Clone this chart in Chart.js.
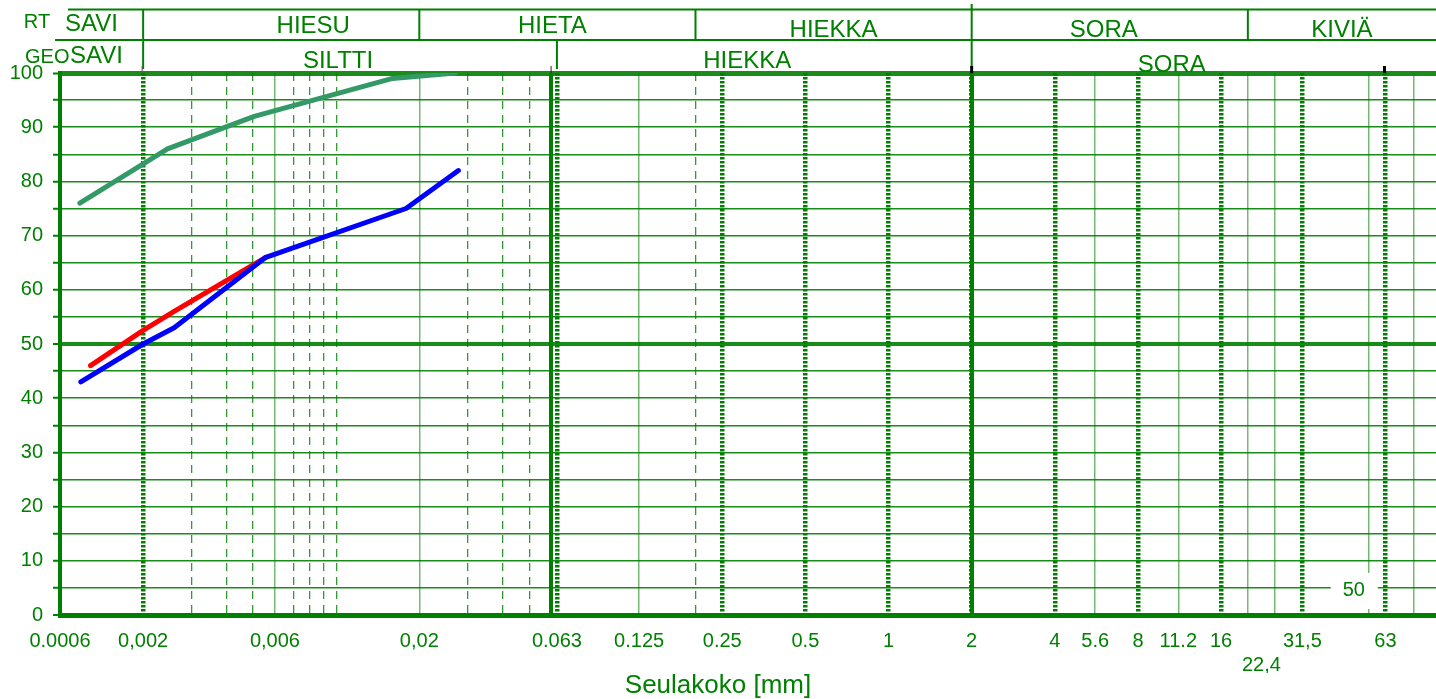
<!DOCTYPE html>
<html>
<head>
<meta charset="utf-8">
<title>Rakeisuuskäyrä</title>
<script src="https://cdn.jsdelivr.net/npm/chart.js@4.4.1/dist/chart.umd.min.js"></script>
<style>
  html, body { margin: 0; padding: 0; background: #fff; overflow: hidden; }
  #wrap { position: relative; width: 1436px; height: 699px; }
</style>
</head>
<body>
<div id="wrap"><canvas id="rakeisuus"></canvas></div>
<script>
// ---- data ----
const xMin = 0.001, xMax = 96;

const xTickValues = [0.001, 0.002, 0.006, 0.02, 0.063, 0.125, 0.25, 0.5, 1, 2, 4, 5.6, 8, 11.2, 16, 22.4, 31.5, 63];
const xTickLabels = ['0.0006', '0,002', '0,006', '0,02', '0.063', '0.125', '0.25', '0.5', '1', '2', '4', '5.6', '8', '11.2', '16', '22,4', '31,5', '63'];

// luokitusrajat (RT ja GEO)
const rtClasses  = ['SAVI', 'HIESU', 'HIETA', 'HIEKKA', 'SORA', 'KIVIÄ'];
const rtBounds   = [0.002, 0.02, 0.2, 2, 20];
const geoClasses = ['SAVI', 'SILTTI', 'HIEKKA', 'SORA'];
const geoBounds  = [0.002, 0.063, 2];

// pystyviivat
const gridDashed = [0.003, 0.004, 0.005, 0.007, 0.008, 0.009, 0.01, 0.03, 0.04, 0.05, 0.2];
const gridThin   = [0.006, 0.02, 0.125, 5.6, 11.2, 20, 25, 55, 80];
const gridDotted = [0.002, 0.063, 0.25, 0.5, 1, 2, 4, 8, 16, 31.5, 63];
const gridBold   = [0.06, 2];

// läpäisy-% (raekoko mm)
const greenSize = [0.00118, 0.00245, 0.00505, 0.016, 0.027];
const greenPass = [76, 86, 92, 99, 100];
const blueSize  = [0.00119, 0.002, 0.00259, 0.00556, 0.0179, 0.0277];
const bluePass  = [43, 50, 53, 66, 75, 82];
const redSize   = [0.00129, 0.002, 0.00259, 0.00556];
const redPass   = [46, 52.5, 56, 66];

// ---- styles ----
const GREEN = '#008000';
const FONT = 'Liberation Sans, Arial, sans-serif';
const lowLabels = ['22,4'];

const pts = (xs, ys) => xs.map((x, i) => ({ x, y: ys[i] }));

function gridAxis(values, width, color, dash) {
  return {
    type: 'logarithmic', position: 'bottom', min: xMin, max: xMax,
    afterBuildTicks: s => { s.ticks = values.map(v => ({ value: v })); },
    afterFit: s => { s.height = 0; },
    ticks: { display: false },
    grid: { drawTicks: false, lineWidth: width, color: color },
    border: { display: false, dash: dash }
  };
}

// otsikkorivit yläpuolella
const headerPlugin = {
  id: 'luokitus',
  afterDraw(chart) {
    const { ctx } = chart;
    const xs = chart.scales.x, ys = chart.scales.y;
    const px = v => xs.getPixelForValue(v);
    const W = chart.width;
    const line = (x1, y1, x2, y2) => { ctx.beginPath(); ctx.moveTo(x1, y1); ctx.lineTo(x2, y2); ctx.stroke(); };

    ctx.save();
    ctx.strokeStyle = GREEN;
    ctx.fillStyle = GREEN;
    ctx.lineWidth = 2;
    line(68, 9.5, W, 9.5);
    line(55, 40, W, 40);
    rtBounds.forEach(b => line(px(b), 9, px(b), 40));
    geoBounds.forEach(b => line(px(b), 40, px(b), 69));
    line(px(2), 4, px(2), 9);

    ctx.textAlign = 'center';
    ctx.textBaseline = 'alphabetic';
    ctx.font = '20px ' + FONT;
    ctx.fillText('RT', 37, 28);
    ctx.textAlign = 'left';
    ctx.fillText('GEO', 25, 63);

    const rtNudge  = [[-10, -3], [32, -1], [-5, -1], [0, 3], [-6, 3], [0, 3]];
    const geoNudge = [[-5, -5], [-12, 0], [-17, 0], [-32, 4]];
    ctx.textAlign = 'center';
    ctx.font = '24px ' + FONT;
    const rtEdges = [xs.left, ...rtBounds.map(px), xs.right];
    rtClasses.forEach((t, i) => {
      ctx.fillText(t, (rtEdges[i] + rtEdges[i + 1]) / 2 + rtNudge[i][0], 34 + rtNudge[i][1]);
    });
    const geoEdges = [xs.left, ...geoBounds.map(px), xs.right];
    geoClasses.forEach((t, i) => {
      ctx.fillText(t, (geoEdges[i] + geoEdges[i + 1]) / 2 + geoNudge[i][0], 68 + geoNudge[i][1]);
    });

    // pienet mustat merkit yläreunassa
    const top = chart.chartArea.top;
    ctx.strokeStyle = '#555'; ctx.lineWidth = 1;
    line(px(0.002) - 1, top - 7, px(0.002) - 1, top);
    ctx.strokeStyle = '#222';
    line(px(0.06), top - 7, px(0.06), top);
    ctx.strokeStyle = '#000'; ctx.lineWidth = 3;
    line(px(2), top - 7, px(2), top);
    line(px(63) - 1, top - 7, px(63) - 1, top);

    // "50" merkintä
    const bx = px(50), by = ys.getPixelForValue(5);
    ctx.fillStyle = '#fff';
    ctx.fillRect(bx - 27, by - 15, 47, 36);
    ctx.fillStyle = GREEN;
    ctx.font = '20px ' + FONT;
    ctx.textBaseline = 'middle';
    ctx.fillText('50', bx - 4, by + 3);
    ctx.restore();
  }
};

const lineStyle = color => ({
  showLine: true, borderColor: color, backgroundColor: color, borderWidth: 5,
  pointRadius: 0, fill: false, borderCapStyle: 'round', borderJoinStyle: 'round'
});

new Chart(document.getElementById('rakeisuus'), {
  type: 'scatter',
  data: {
    datasets: [
      { label: 'Näyte 1', data: pts(blueSize, bluePass), ...lineStyle('#0000ff') },
      { label: 'Näyte 2', data: pts(redSize, redPass), ...lineStyle('#ff0000') },
      { label: 'Näyte 3', data: pts(greenSize, greenPass), ...lineStyle('#339966') }
    ]
  },
  plugins: [headerPlugin],
  options: {
    responsive: true,
    maintainAspectRatio: false,
    animation: false,
    devicePixelRatio: 1,
    layout: { padding: { top: 73, left: 0, right: 0, bottom: 0 } },
    plugins: {
      legend: { display: false },
      tooltip: { enabled: false },
      title: {
        display: true, position: 'bottom', text: 'Seulakoko [mm]', color: GREEN,
        font: { family: FONT, size: 26, weight: 'normal', lineHeight: 1 },
        padding: { top: 0, bottom: 0 }
      }
    },
    scales: {
      x: {
        type: 'logarithmic', position: 'bottom', min: xMin, max: xMax,
        afterBuildTicks: s => { s.ticks = xTickValues.map(v => ({ value: v })); },
        afterFit: s => { s.height = 58; },
        grid: { display: false, drawTicks: false },
        border: { display: true, color: GREEN, width: 5 },
        ticks: {
          autoSkip: false, maxRotation: 0, minRotation: 0, padding: 14, color: GREEN,
          font: { family: FONT, size: 20 },
          callback: (v, i) => lowLabels.includes(xTickLabels[i]) ? ['', xTickLabels[i]] : xTickLabels[i]
        }
      },
      xThin:   gridAxis(gridThin, 1.5, 'rgba(0,128,0,0.55)', []),
      xDashed: gridAxis(gridDashed, 1.3, 'rgba(0,128,0,0.8)', [8, 6]),
      xBold:   gridAxis(gridBold, 4, GREEN, []),
      xDotted: gridAxis(gridDotted, 4.5, GREEN, [2.5, 1.5]),
      y: {
        min: 0, max: 100,
        afterFit: s => { s.width = 60; },
        border: { display: true, color: GREEN, width: 4 },
        grid: {
          color: 'rgba(0,128,0,0.9)',
          lineWidth: c => (c.tick && c.tick.value === 100) ? 5 : (c.tick && (c.tick.value === 0 || c.tick.value === 50)) ? 4 : 1.5,
          drawTicks: true, tickLength: 7, tickWidth: 2, tickColor: GREEN
        },
        ticks: {
          stepSize: 5, autoSkip: false, padding: 10, color: GREEN,
          font: { family: FONT, size: 20 },
          callback: v => (v % 10 === 0 ? String(v) : '')
        }
      }
    }
  }
});
</script>
</body>
</html>
